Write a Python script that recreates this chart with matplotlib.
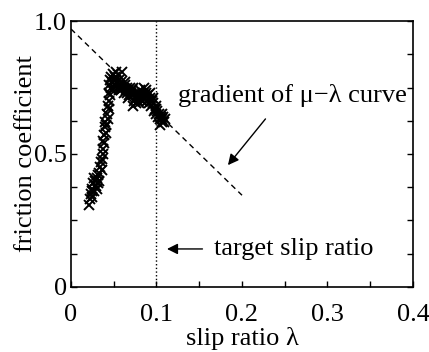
import numpy as np
import matplotlib
matplotlib.use("Agg")
import matplotlib.pyplot as plt

plt.rcParams['font.family'] = ['Liberation Serif', 'DejaVu Serif']

# measured slip ratio / friction coefficient samples
slip = [0.021, 0.022, 0.023, 0.024, 0.025, 0.026, 0.027, 0.028, 0.029, 0.030,
        0.031, 0.032, 0.033, 0.034, 0.035, 0.036, 0.037, 0.038, 0.038, 0.039,
        0.040, 0.040, 0.041, 0.042, 0.043, 0.043, 0.044, 0.045, 0.045, 0.046,
        0.047, 0.047, 0.048, 0.049, 0.050, 0.051, 0.052, 0.053, 0.054, 0.055,
        0.056, 0.057, 0.058, 0.059, 0.060, 0.061, 0.062, 0.063, 0.064, 0.065,
        0.066, 0.067, 0.068, 0.069, 0.070, 0.071, 0.072, 0.073, 0.074, 0.075,
        0.076, 0.077, 0.078, 0.079, 0.080, 0.081, 0.082, 0.083, 0.084, 0.085,
        0.086, 0.087, 0.088, 0.089, 0.090, 0.091, 0.092, 0.093, 0.094, 0.095,
        0.096, 0.097, 0.098, 0.099, 0.100, 0.101, 0.102, 0.103, 0.104, 0.105,
        0.106, 0.107, 0.108, 0.109, 0.110,
        0.024, 0.027, 0.030, 0.033, 0.036, 0.039, 0.041, 0.044, 0.046, 0.048,
        0.050, 0.053, 0.056, 0.059, 0.063, 0.067, 0.072, 0.076, 0.080, 0.084,
        0.088, 0.092, 0.096, 0.100, 0.104, 0.107]
mu = [0.31, 0.33, 0.35, 0.37, 0.34, 0.39, 0.36, 0.40, 0.38, 0.41,
      0.39, 0.42, 0.40, 0.45, 0.47, 0.44, 0.50, 0.52, 0.55, 0.57,
      0.60, 0.62, 0.58, 0.65, 0.68, 0.63, 0.70, 0.73, 0.76, 0.78,
      0.75, 0.79, 0.77, 0.80, 0.78, 0.76, 0.79, 0.81, 0.77, 0.75,
      0.78, 0.76, 0.74, 0.77, 0.81, 0.75, 0.73, 0.76, 0.74, 0.75,
      0.73, 0.74, 0.72, 0.75, 0.73, 0.74, 0.72, 0.68, 0.70, 0.73,
      0.69, 0.72, 0.70, 0.73, 0.71, 0.74, 0.72, 0.70, 0.73, 0.75,
      0.72, 0.71, 0.73, 0.70, 0.72, 0.69, 0.71, 0.70, 0.68, 0.70,
      0.69, 0.66, 0.67, 0.68, 0.65, 0.66, 0.64, 0.65, 0.63, 0.64,
      0.62, 0.63, 0.64, 0.62, 0.63,
      0.36, 0.41, 0.37, 0.43, 0.48, 0.54, 0.61, 0.67, 0.72, 0.74,
      0.75, 0.78, 0.74, 0.75, 0.77, 0.71, 0.75, 0.71, 0.69, 0.70,
      0.74, 0.73, 0.71, 0.67, 0.61, 0.65]

# gradient line end points
grad_x = [0.0, 0.2]
grad_y = [0.97, 0.345]
target_slip = 0.1

fig = plt.figure(figsize=(4.29, 3.52), dpi=100)
ax = fig.add_axes([0.1655, 0.1847, 0.7972, 0.7556])

ax.plot(slip, mu, 'x', color='black', markersize=7, markeredgewidth=1.4)
ax.plot(grad_x, grad_y, '--', color='black', lw=1.0, dashes=(4, 3))
ax.axvline(target_slip, color='black', lw=1.0, ls=':')

ax.set_xlim(0, 0.4)
ax.set_ylim(0, 1.0)
ax.set_xticks(np.arange(0, 0.41, 0.05))
ax.set_xticklabels(['0', '', '0.1', '', '0.2', '', '0.3', '', '0.4'])
ax.set_yticks(np.arange(0, 1.01, 0.125))
ax.set_yticklabels(['0', '', '', '', '0.5', '', '', '', '1.0'])
ax.tick_params(direction='in', length=4, width=1, labelsize=19,
               top=False, right=True)
ax.tick_params(axis='x', pad=12)
ax.tick_params(axis='y', pad=3)
for s in ax.spines.values():
    s.set_linewidth(1.2)

ax.set_xlabel('slip ratio λ', fontsize=19, labelpad=1)
ax.set_ylabel('friction coefficient', fontsize=19, labelpad=-2)

ax.annotate('', xy=(0.1815, 0.45), xytext=(0.2295, 0.64),
            arrowprops=dict(arrowstyle='-|>', color='black', lw=1.0,
                            mutation_scale=16))
ax.text(0.125, 0.72, 'gradient of μ−λ curve', fontsize=19, va='center')

ax.annotate('', xy=(0.109, 0.143), xytext=(0.157, 0.143),
            arrowprops=dict(arrowstyle='-|>', color='black', lw=1.0,
                            mutation_scale=16))
ax.text(0.167, 0.143, 'target slip ratio', fontsize=19, va='center')

fig.savefig('out.png', dpi=100)
